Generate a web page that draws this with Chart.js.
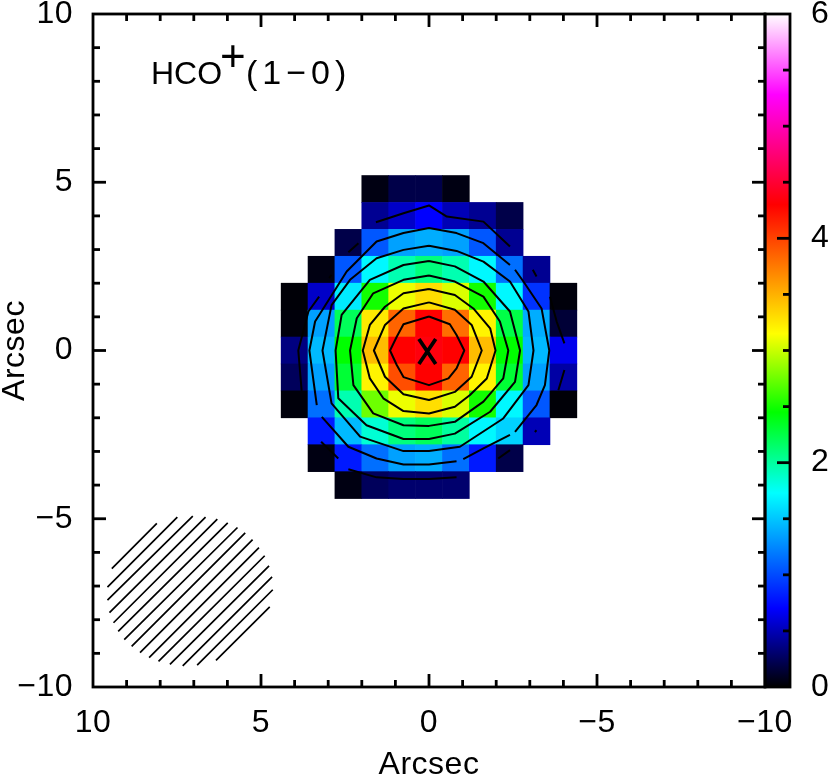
<!DOCTYPE html>
<html lang="en">
<head>
<meta charset="UTF-8">
<title>HCO+(1-0)</title>
<script src="https://cdn.jsdelivr.net/npm/chart.js"></script>
<style>
  body { margin: 0; background: #fff; }
  canvas { display: block; }
</style>
</head>
<body>
<canvas id="map" width="830" height="777"></canvas>
<script>
// map pixels: offsets in arcsec, values
const xCenters = [4, 3.2, 2.4, 1.6, 0.8, 0, -0.8, -1.6, -2.4, -3.2, -4];
const yCenters = [4.8, 4, 3.2, 2.4, 1.6, 0.8, 0, -0.8, -1.6, -2.4, -3.2, -4];
const cellValues = [
  [null, null, null, 0.05, 0.2, 0.2, 0.05, null, null, null, null],
  [null, null, null, 0.4, 0.55, 0.7, 0.5, 0.4, 0.2, null, null],
  [null, null, 0.2, 1.05, 1.35, 1.4, 1.35, 1.05, 0.4, null, null],
  [null, 0.05, 1.05, 1.7, 1.95, 2.1, 1.95, 1.7, 1.15, 0.4, null],
  [0.02, 0.55, 1.65, 2.5, 3.1, 3.3, 3.05, 2.5, 1.7, 0.9, 0.03],
  [0.03, 1.35, 2.2, 3.25, 3.85, 4.3, 3.8, 3.2, 2.25, 1.4, 0.15],
  [0.35, 1.45, 2.45, 3.45, 4.3, 4.35, 4.3, 3.45, 2.45, 1.45, 0.65],
  [0.25, 1.35, 2.3, 3.2, 3.95, 4.3, 3.85, 3.2, 2.3, 1.35, 0.45],
  [0.03, 1.15, 1.95, 2.75, 3.1, 3.3, 3.05, 2.5, 1.7, 1.05, 0.02],
  [null, 0.8, 1.45, 1.85, 2.1, 2.2, 2.0, 1.7, 1.55, 0.5, null],
  [null, 0.05, 0.8, 1.15, 1.35, 1.4, 1.15, 0.8, 0.2, null, null],
  [null, null, 0.05, 0.25, 0.3, 0.3, 0.3, null, null, null, null]
];

// colour table
const cmapValues = [0, 0.7, 1.73, 2.45, 3.15, 4.3, 5.28, 6];
const cmapColors = [[0,0,0], [0,0,255], [0,255,255], [0,255,0], [255,255,0], [255,0,0], [255,0,255], [255,255,255]];

// contours, innermost first. null = break in the line
const contour1 = [[0,1.01],[-0.62,0.78],[-0.82,0.46],[-1.05,0],[-0.82,-0.53],[-0.58,-0.83],[0,-1.03],[0.76,-0.79],[0.96,-0.43],[1.16,0],[0.96,0.41],[0.76,0.78],[0,1.01]];
const contour2 = [[0,1.43],[-0.77,1.21],[-1.27,0.76],[-1.57,0],[-1.27,-0.78],[-0.77,-1.23],[0,-1.47],[0.76,-1.3],[1.31,-0.78],[1.64,0],[1.31,0.76],[0.76,1.25],[0,1.43]];
const contour3 = [[0,1.83],[-0.77,1.65],[-1.32,1.25],[-1.82,0.66],[-1.98,0],[-1.72,-0.83],[-1.22,-1.32],[-0.77,-1.67],[0,-1.87],[0.76,-1.8],[1.36,-1.42],[1.76,-0.83],[1.97,0],[1.76,0.76],[1.31,1.3],[0.76,1.7],[0,1.83]];
const contour4 = [[0,2.23],[-0.77,2.05],[-1.62,1.6],[-2.11,0.86],[-2.36,0],[-2.21,-0.83],[-1.62,-1.52],[-0.77,-2.12],[0,-2.24],[0.76,-2.22],[1.66,-1.87],[2.25,-1.03],[2.35,0],[2.15,0.96],[1.66,1.7],[0.76,2.1],[0,2.23]];
const contour5 = [[0,2.66],[-0.77,2.5],[-1.62,2.05],[-2.41,1.16],[-2.71,0],[-2.56,-0.93],[-1.82,-1.82],[-0.77,-2.47],[0,-2.63],[0.76,-2.63],[1.86,-2.22],[2.7,-1.42],[2.78,0],[2.6,1.06],[1.76,2.1],[0.76,2.54],[0,2.66]];
const contour6 = [[0,3.11],[-0.82,2.96],[-1.62,2.64],[-2.41,2.05],[-2.96,1.16],[-3.11,0],[-2.96,-1.03],[-2.21,-2.02],[-0.92,-2.86],[0,-2.99],[0.76,-2.99],[2.05,-2.56],[2.9,-1.57],[3.17,0],[2.9,1.35],[2.35,2.1],[1.56,2.74],[0.76,2.99],[0,3.11]];
const contour7 = [[-2.56,2.4],[-2.81,2.05],[-3.35,1.25],[-3.58,0],[-3.45,-1.03],[-3.2,-1.62],[-2.56,-2.42],null,
  [-2.41,-2.51],[-1.62,-2.91],[-1.02,-3.23],null,
  [-0.82,-3.29],[0,-3.39],[0.76,-3.39],[1.56,-3.21],[2.4,-2.86],[3.19,-1.97],null,
  [3.34,-1.62],[3.56,0],[3.39,0.86],[2.45,2.35],[1.56,3.24],[0.76,3.49],[0,3.64],[-0.82,3.49],[-1.62,3.19],[-2.41,2.54]];
const contour8 = [[1.58,3.81],[0.76,4.08],[0,4.31],[-0.53,3.98],[-1.62,3.83],[-2.41,3.09],null,
  [-3.09,2.4],[-3.2,2.2],null,
  [-3.6,1.6],[-3.8,0.86],[-4.03,0.21],null,
  [-4.03,-0.58],[-3.85,-1.18],null,
  [-3.2,-2.37],[-3.15,-2.42],null,
  [-2.41,-2.96],[-2.06,-3.21],null,
  [-0.82,-3.77],[0,-3.82],[0.76,-3.82],[1.56,-3.77],[2.4,-3.53],null,
  [2.7,-3.21],[3.21,-2.71],null,
  [3.79,-1.2],[3.89,0],[3.59,1.16],[3.27,1.6],null,
  [2.97,2.15],[2.9,2.25],null,
  [2.4,2.92],[2.1,3.19]];

// centre cross
const crossMark = [[0.3,0.34],[-0.2,-0.4],null,[-0.2,0.34],[0.3,-0.4]];

// beam hatching
const beamHatch = [[9.44,-6.48],[8.1,-5.14],null,[9.57,-7.03],[7.49,-4.95],null,[9.57,-7.42],[7.03,-4.92],null,
  [9.51,-7.79],[6.65,-4.95],null,[9.39,-8.09],[6.3,-5.01],null,[9.25,-8.35],[5.99,-5.12],null,
  [9.07,-8.59],[5.7,-5.26],null,[8.85,-8.79],[5.47,-5.42],null,[8.6,-8.98],[5.25,-5.62],null,
  [8.33,-9.13],[5.06,-5.86],null,[8.05,-9.24],[4.89,-6.1],null,[7.71,-9.33],[4.76,-6.4],null,
  [7.33,-9.37],[4.67,-6.73],null,[6.9,-9.35],[4.65,-7.11],null,[6.34,-9.21],[4.74,-7.62]];

const minorTicks = [-9,-8,-7,-6,-4,-3,-2,-1,1,2,3,4,6,7,8,9];
const majorTicks = [-5,0,5];
const barMinorTicks = [0.5,1,1.5,2.5,3,3.5,4.5,5,5.5];
const barMajorTicks = [2,4];

const FONT = '"Liberation Sans", Arial, sans-serif';

function valueColor(v) {
  let i = 0;
  while (i < cmapValues.length - 2 && v > cmapValues[i + 1]) i++;
  const t = (v - cmapValues[i]) / (cmapValues[i + 1] - cmapValues[i]);
  const c = cmapColors[i].map((a, k) => Math.round(a + (cmapColors[i + 1][k] - a) * t));
  return `rgb(${c[0]},${c[1]},${c[2]})`;
}

function toPoints(list) {
  return list.map(p => p ? { x: p[0], y: p[1] } : { x: NaN, y: NaN });
}

function lineSet(list, width) {
  return {
    type: 'scatter', showLine: true, data: toPoints(list), borderColor: '#000', borderWidth: width,
    pointRadius: 0, tension: 0, spanGaps: false, order: 1, borderJoinStyle: 'round', clip: false
  };
}

// one floating bar per map pixel
const cellPoints = [];
const cellColors = [];
yCenters.forEach((y, r) => {
  xCenters.forEach((x, c) => {
    const v = cellValues[r][c];
    if (v === null) return;
    cellPoints.push({ x: x, y: [y - 0.4, y + 0.4] });
    cellColors.push(valueColor(v));
  });
});

function line(ctx, x1, y1, x2, y2) {
  ctx.beginPath();
  ctx.moveTo(x1, y1);
  ctx.lineTo(x2, y2);
  ctx.stroke();
}

// no space reserved for half tick labels, the frame sits at fixed spots
function noLabelPadding(scale) {
  scale.paddingTop = 0;
  scale.paddingBottom = 0;
  scale.paddingLeft = 0;
  scale.paddingRight = 0;
}

// frame, inward ticks, colour bar and the map label
const framePlugin = {
  id: 'frame',
  beforeDraw(chart) {
    chart.ctx.letterSpacing = '0.5px';
  },
  afterDraw(chart) {
    const ctx = chart.ctx;
    const a = chart.chartArea;
    const sx = chart.scales.x, sy = chart.scales.y, sb = chart.scales.bar;
    const barRight = a.right + 25;
    ctx.save();

    const grad = ctx.createLinearGradient(0, sb.getPixelForValue(0), 0, sb.getPixelForValue(6));
    cmapValues.forEach((v, i) => {
      const c = cmapColors[i];
      grad.addColorStop(v / 6, `rgb(${c[0]},${c[1]},${c[2]})`);
    });
    ctx.fillStyle = grad;
    ctx.fillRect(a.right, a.top, 25, a.bottom - a.top);

    ctx.strokeStyle = '#000';
    ctx.lineCap = 'butt';
    ctx.lineWidth = 2.8;
    ctx.strokeRect(a.left, a.top, a.right - a.left, a.bottom - a.top);
    ctx.strokeRect(a.right, a.top, 25, a.bottom - a.top);

    const tick = (v, len) => {
      const px = sx.getPixelForValue(v), py = sy.getPixelForValue(v);
      line(ctx, px, a.top, px, a.top + len);
      line(ctx, px, a.bottom, px, a.bottom - len);
      line(ctx, a.left, py, a.left + len, py);
      line(ctx, a.right, py, a.right - len, py);
    };
    minorTicks.forEach(v => tick(v, 7));
    majorTicks.forEach(v => tick(v, 13));
    barMinorTicks.forEach(v => { const p = sb.getPixelForValue(v); line(ctx, barRight, p, barRight - 7, p); });
    barMajorTicks.forEach(v => { const p = sb.getPixelForValue(v); line(ctx, barRight, p, barRight - 13, p); });

    // HCO+(1-0)
    ctx.fillStyle = '#000';
    ctx.textBaseline = 'alphabetic';
    ctx.textAlign = 'left';
    ctx.letterSpacing = '0px';
    ctx.font = '32px ' + FONT;
    ctx.fillText('HCO', 151, 84);
    ctx.font = '44px ' + FONT;
    ctx.fillText('+', 220, 71);
    ctx.font = '34px ' + FONT;
    ctx.letterSpacing = '5px';
    ctx.fillText('(1\u22120)', 246, 84);
    ctx.restore();
  }
};

new Chart(document.getElementById('map'), {
  type: 'scatter',
  data: {
    datasets: [
      {
        type: 'bar', data: cellPoints, backgroundColor: cellColors, borderWidth: 0,
        barPercentage: 1, categoryPercentage: 1, grouped: false, order: 5
      },
      lineSet(contour1, 2), lineSet(contour2, 2), lineSet(contour3, 2), lineSet(contour4, 2),
      lineSet(contour5, 2), lineSet(contour6, 2), lineSet(contour7, 2), lineSet(contour8, 2),
      lineSet(crossMark, 3.8),
      lineSet(beamHatch, 1.7)
    ]
  },
  options: {
    responsive: false,
    animation: false,
    layout: { padding: { top: 14, left: 0, right: 0, bottom: 0 } },
    plugins: { legend: { display: false }, tooltip: { enabled: false } },
    scales: {
      x: {
        type: 'linear', reverse: true, min: -10, max: 10, offset: false,
        grid: { display: false }, border: { display: false },
        ticks: {
          stepSize: 5, autoSkip: false, maxRotation: 0, padding: 9, color: '#000',
          font: { family: FONT, size: 32 },
          callback: v => v < 0 ? '\u2212' + Math.abs(v) : String(v)
        },
        title: { display: true, text: 'Arcsec', color: '#000', font: { family: FONT, size: 32 }, padding: { top: 0, bottom: -7 } },
        afterFit(scale) { scale.height = 90; noLabelPadding(scale); }
      },
      y: {
        type: 'linear', min: -10, max: 10,
        grid: { display: false }, border: { display: false },
        ticks: {
          stepSize: 5, autoSkip: false, padding: 12, color: '#000',
          font: { family: FONT, size: 32 },
          callback: v => v < 0 ? '\u2212' + Math.abs(v) : String(v)
        },
        title: { display: true, text: 'Arcsec', color: '#000', font: { family: FONT, size: 32 }, padding: { top: -4, bottom: 0 } },
        afterFit(scale) { scale.width = 93; noLabelPadding(scale); }
      },
      bar: {
        type: 'linear', position: 'right', min: 0, max: 6,
        grid: { display: false }, border: { display: false },
        ticks: {
          stepSize: 2, padding: 38, color: '#000',
          font: { family: FONT, size: 32 }
        },
        afterFit(scale) { scale.width = 65; noLabelPadding(scale); }
      }
    }
  },
  plugins: [framePlugin]
});
</script>
</body>
</html>
